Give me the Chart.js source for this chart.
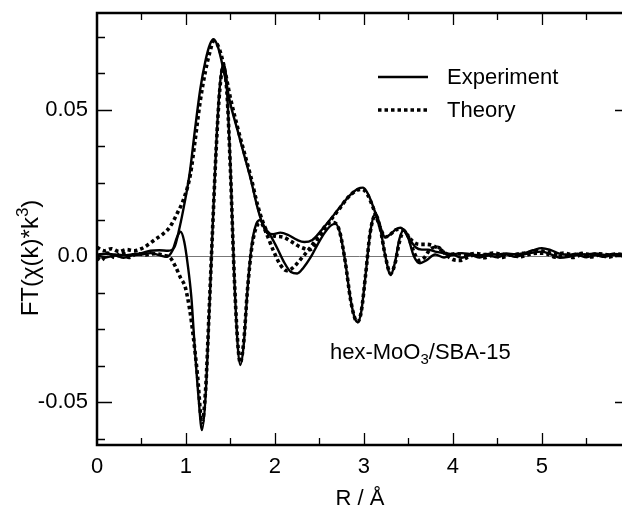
<!DOCTYPE html>
<html>
<head>
<meta charset="utf-8">
<script src="https://cdn.jsdelivr.net/npm/chart.js@4.4.1/dist/chart.umd.min.js"></script>
<style>
  html, body { margin: 0; padding: 0; background: #fff; }
  #wrap { width: 622px; height: 509px; }
</style>
</head>
<body>
<div id="wrap"><canvas id="ftChart" width="622" height="509"></canvas></div>
<script>
// Experiment, magnitude
const rExpMag = [0.00,0.10,0.20,0.30,0.40,0.50,0.60,0.70,0.80,0.87,0.93,0.98,1.04,1.10,1.16,1.22,1.27,1.31,1.36,1.42,1.50,1.58,1.65,1.73,1.80,1.86,1.91,1.98,2.06,2.15,2.25,2.33,2.42,2.50,2.58,2.66,2.75,2.85,2.93,2.99,3.05,3.12,3.18,3.24,3.30,3.36,3.41,3.47,3.53,3.58,3.65,3.72,3.80,3.90,4.00,4.10,4.20,4.30,4.40,4.50,4.60,4.70,4.80,4.90,5.00,5.10,5.20,5.30,5.40,5.50,5.60,5.70,5.80,5.90];
const expMag  = [0.0005,0.0008,0.0005,0.0003,0.0006,0.0010,0.0018,0.0020,0.0018,0.0030,0.0100,0.0175,0.0280,0.0430,0.0570,0.0670,0.0725,0.0742,0.0715,0.0640,0.0520,0.0430,0.0350,0.0260,0.0170,0.0110,0.0080,0.0075,0.0080,0.0072,0.0055,0.0048,0.0055,0.0080,0.0110,0.0140,0.0175,0.0210,0.0230,0.0234,0.0210,0.0155,0.0100,0.0065,0.0075,0.0092,0.0097,0.0080,0.0050,0.0030,0.0022,0.0022,0.0015,0.0010,0.0006,0.0010,0.0006,0.0003,0.0007,0.0005,0.0009,0.0006,0.0010,0.0020,0.0027,0.0020,0.0008,0.0004,0.0008,0.0005,0.0009,0.0004,0.0007,0.0005];

// Experiment, imaginary part
const rExpIm = [0.00,0.10,0.20,0.30,0.40,0.50,0.60,0.70,0.78,0.85,0.90,0.94,0.98,1.02,1.06,1.10,1.14,1.18,1.22,1.26,1.30,1.34,1.38,1.42,1.46,1.50,1.54,1.58,1.61,1.65,1.69,1.74,1.79,1.83,1.88,1.95,2.02,2.10,2.18,2.25,2.32,2.40,2.48,2.56,2.63,2.68,2.73,2.79,2.85,2.90,2.93,2.97,3.02,3.07,3.13,3.18,3.24,3.30,3.35,3.40,3.45,3.50,3.56,3.63,3.70,3.80,3.90,4.00,4.10,4.20,4.30,4.40,4.50,4.60,4.70,4.80,4.90,5.00,5.10,5.20,5.30,5.40,5.50,5.60,5.70,5.80,5.90];
const expIm  = [0.0003,-0.0005,0.0002,-0.0006,0.0003,0.0005,0.0010,0.0003,-0.0003,0.0020,0.0065,0.0083,0.0050,-0.0030,-0.0140,-0.0320,-0.0480,-0.0596,-0.0480,-0.0200,0.0100,0.0380,0.0580,0.0660,0.0570,0.0300,-0.0050,-0.0300,-0.0373,-0.0300,-0.0120,0.0040,0.0110,0.0123,0.0100,0.0070,0.0030,-0.0020,-0.0055,-0.0060,-0.0040,-0.0005,0.0040,0.0080,0.0105,0.0110,0.0080,-0.0020,-0.0150,-0.0215,-0.0226,-0.0190,-0.0060,0.0080,0.0147,0.0100,0.0000,-0.0065,-0.0020,0.0060,0.0090,0.0060,0.0000,-0.0025,-0.0015,0.0005,-0.0005,0.0004,-0.0006,0.0003,-0.0005,0.0002,-0.0004,0.0005,-0.0003,0.0006,0.0012,0.0015,0.0006,-0.0006,-0.0003,0.0004,-0.0004,0.0003,-0.0003,0.0004,0.0000];

// Theory, magnitude
const rThMag = [0.00,0.08,0.16,0.25,0.33,0.42,0.50,0.58,0.66,0.74,0.82,0.90,0.98,1.05,1.10,1.16,1.22,1.27,1.31,1.36,1.42,1.50,1.58,1.65,1.73,1.80,1.86,1.92,2.00,2.09,2.18,2.29,2.40,2.48,2.55,2.63,2.72,2.82,2.92,2.98,3.04,3.11,3.18,3.24,3.30,3.36,3.42,3.48,3.55,3.62,3.70,3.78,3.86,3.95,4.05,4.15,4.25,4.35,4.45,4.55,4.65,4.75,4.85,4.95,5.05,5.15,5.25,5.35,5.45,5.55,5.65,5.75,5.85,5.90];
const thMag  = [0.0030,0.0018,0.0025,0.0015,0.0022,0.0018,0.0025,0.0040,0.0058,0.0075,0.0100,0.0145,0.0200,0.0280,0.0390,0.0530,0.0635,0.0700,0.0735,0.0720,0.0660,0.0540,0.0440,0.0360,0.0270,0.0180,0.0120,0.0080,0.0068,0.0065,0.0050,0.0030,0.0022,0.0055,0.0090,0.0125,0.0160,0.0200,0.0225,0.0228,0.0210,0.0160,0.0100,0.0065,0.0075,0.0090,0.0092,0.0075,0.0050,0.0040,0.0040,0.0035,0.0022,0.0005,0.0008,0.0004,0.0009,0.0005,0.0010,0.0006,0.0003,0.0008,0.0012,0.0018,0.0015,0.0006,0.0010,0.0004,0.0009,0.0005,0.0008,0.0004,0.0007,0.0005];

// Theory, imaginary part
const rThIm = [0.00,0.05,0.12,0.20,0.28,0.36,0.45,0.55,0.65,0.75,0.82,0.88,0.94,0.99,1.04,1.08,1.13,1.18,1.22,1.26,1.30,1.34,1.38,1.42,1.46,1.50,1.54,1.58,1.61,1.65,1.69,1.74,1.80,1.84,1.90,1.98,2.06,2.13,2.18,2.25,2.32,2.40,2.48,2.56,2.63,2.68,2.73,2.79,2.85,2.90,2.93,2.97,3.02,3.07,3.13,3.18,3.24,3.30,3.35,3.40,3.45,3.50,3.56,3.62,3.68,3.75,3.83,3.92,4.00,4.08,4.16,4.25,4.35,4.45,4.55,4.65,4.75,4.85,4.95,5.05,5.15,5.25,5.35,5.45,5.55,5.65,5.75,5.85,5.90];
const thIm  = [-0.0005,-0.0015,0.0010,-0.0005,0.0012,-0.0005,0.0008,0.0004,0.0008,0.0002,-0.0005,-0.0035,-0.0075,-0.0105,-0.0180,-0.0270,-0.0410,-0.0570,-0.0460,-0.0190,0.0100,0.0370,0.0570,0.0650,0.0560,0.0290,-0.0050,-0.0290,-0.0365,-0.0290,-0.0120,0.0030,0.0105,0.0113,0.0080,0.0020,-0.0030,-0.0050,-0.0045,-0.0025,0.0000,0.0030,0.0065,0.0100,0.0115,0.0112,0.0080,-0.0020,-0.0150,-0.0215,-0.0225,-0.0190,-0.0060,0.0080,0.0140,0.0100,0.0000,-0.0060,-0.0025,0.0050,0.0085,0.0065,0.0015,-0.0015,-0.0005,0.0025,0.0030,0.0005,-0.0012,-0.0015,-0.0005,0.0004,-0.0006,0.0003,-0.0005,0.0004,-0.0003,0.0005,0.0010,0.0008,-0.0004,0.0003,-0.0005,0.0004,-0.0003,0.0004,-0.0004,0.0003,0.0000];

const xTickLabels = [0, 1, 2, 3, 4, 5];
const yTickLabels = [-0.05, 0, 0.05];

const FONT = "'Liberation Sans', Arial, sans-serif";

function pts(rs, vs) {
    return rs.map((r, i) => ({ x: r, y: vs[i] }));
}

// frame, inward ticks, legend and labels drawn on top
const decorPlugin = {
    id: 'decor',
    afterDraw: (chart) => {
        const { ctx, chartArea, scales } = chart;
        const xs = scales.x, ys = scales.y;
        const L = chartArea.left, R = chartArea.right, T = chartArea.top, B = chartArea.bottom;
        ctx.save();
        ctx.strokeStyle = '#000';
        ctx.lineCap = 'butt';

        // ticks
        ctx.lineWidth = 1.3;
        ctx.beginPath();
        for (let v = 0.5; v < 5.9; v += 0.5) {
            const px = Math.round(xs.getPixelForValue(v)) + 0.5;
            const len = Math.abs(v - Math.round(v)) < 1e-6 ? 12 : 7;
            ctx.moveTo(px, B); ctx.lineTo(px, B - len);
            ctx.moveTo(px, T); ctx.lineTo(px, T + len);
        }
        for (let i = -5; i <= 6; i++) {
            const v = i * 0.0125;
            const py = Math.round(ys.getPixelForValue(v)) + 0.5;
            const major = i % 4 === 0;
            ctx.moveTo(L, py); ctx.lineTo(L + (major ? 15 : 8), py);
            if (major) { ctx.moveTo(R, py); ctx.lineTo(R - 7, py); }
        }
        ctx.stroke();

        // frame (right side falls off the picture)
        ctx.lineWidth = 2.5;
        ctx.beginPath();
        ctx.moveTo(R, T); ctx.lineTo(L, T); ctx.lineTo(L, B); ctx.lineTo(R, B);
        ctx.stroke();

        // legend
        ctx.lineWidth = 2.5;
        ctx.beginPath(); ctx.moveTo(378, 77); ctx.lineTo(428, 77); ctx.stroke();
        ctx.lineWidth = 3.5;
        ctx.setLineDash([3.5, 3]);
        ctx.beginPath(); ctx.moveTo(378, 110); ctx.lineTo(430, 110); ctx.stroke();
        ctx.setLineDash([]);
        ctx.fillStyle = '#000';
        ctx.font = '22px ' + FONT;
        ctx.textAlign = 'left';
        ctx.textBaseline = 'middle';
        ctx.fillText('Experiment', 447, 78);
        ctx.fillText('Theory', 447, 111);

        // sample label with subscript
        let x = 330;
        const y = 359;
        ctx.textBaseline = 'alphabetic';
        ctx.fillText('hex-MoO', x, y);
        x += ctx.measureText('hex-MoO').width;
        ctx.font = '15px ' + FONT;
        ctx.fillText('3', x, y + 5);
        x += ctx.measureText('3').width;
        ctx.font = '22px ' + FONT;
        ctx.fillText('/SBA-15', x, y);

        // x title
        ctx.textAlign = 'center';
        ctx.fillText('R / Å', 360, 505);

        // y title, rotated, with superscript
        ctx.translate(38, 258);
        ctx.rotate(-Math.PI / 2);
        ctx.textAlign = 'left';
        const a = 'FT(χ(k)*k', b = '3', c = ')';
        ctx.font = '24px ' + FONT;
        const wa = ctx.measureText(a).width, wc = ctx.measureText(c).width;
        ctx.font = '17px ' + FONT;
        const wb = ctx.measureText(b).width;
        let sx = -(wa + wb + wc) / 2;
        ctx.font = '24px ' + FONT;
        ctx.fillText(a, sx, 0);
        sx += wa;
        ctx.font = '17px ' + FONT;
        ctx.fillText(b, sx, -10);
        sx += wb;
        ctx.font = '24px ' + FONT;
        ctx.fillText(c, sx, 0);
        ctx.restore();
    }
};

const solid = { borderColor: '#000', borderWidth: 2.4, pointRadius: 0, fill: false, cubicInterpolationMode: 'monotone' };
const dotted = { borderColor: '#000', borderWidth: 3.6, borderDash: [3.5, 3], borderCapStyle: 'butt', pointRadius: 0, fill: false, cubicInterpolationMode: 'monotone' };

var ctx = document.getElementById('ftChart').getContext('2d');
var ftChart = new Chart(ctx, {
    type: 'line',
    data: {
        datasets: [
            Object.assign({ label: 'Theory |FT|', data: pts(rThMag, thMag) }, dotted),
            Object.assign({ label: 'Theory Im', data: pts(rThIm, thIm) }, dotted),
            Object.assign({ label: 'Experiment |FT|', data: pts(rExpMag, expMag) }, solid),
            Object.assign({ label: 'Experiment Im', data: pts(rExpIm, expIm) }, solid)
        ]
    },
    options: {
        responsive: false,
        animation: false,
        layout: { padding: { top: 13, right: 0, bottom: 0, left: 0 } },
        scales: {
            x: {
                type: 'linear',
                min: 0,
                max: 5.9,
                afterFit: (s) => { s.height = 64; s.paddingLeft = 0; s.paddingRight = 0; },
                afterBuildTicks: (s) => { s.ticks = xTickLabels.map(v => ({ value: v })); },
                grid: { display: false, drawTicks: false },
                border: { display: false },
                ticks: {
                    color: '#000',
                    padding: 9,
                    maxRotation: 0,
                    autoSkip: false,
                    font: { size: 22, family: FONT },
                    callback: (v) => String(v)
                }
            },
            y: {
                min: -0.0647,
                max: 0.0832,
                afterFit: (s) => { s.width = 97; s.paddingTop = 0; s.paddingBottom = 0; },
                afterBuildTicks: (s) => { s.ticks = yTickLabels.map(v => ({ value: v })); },
                grid: {
                    drawTicks: false,
                    lineWidth: 1,
                    color: (c) => (c.tick && c.tick.value === 0 ? '#777' : 'rgba(0,0,0,0)')
                },
                border: { display: false },
                ticks: {
                    color: '#000',
                    padding: 9,
                    autoSkip: false,
                    font: { size: 22, family: FONT },
                    callback: (v) => (v === 0 ? '0.0' : v.toFixed(2))
                }
            }
        },
        plugins: {
            legend: { display: false },
            tooltip: { enabled: false }
        }
    },
    plugins: [decorPlugin]
});
</script>
</body>
</html>
